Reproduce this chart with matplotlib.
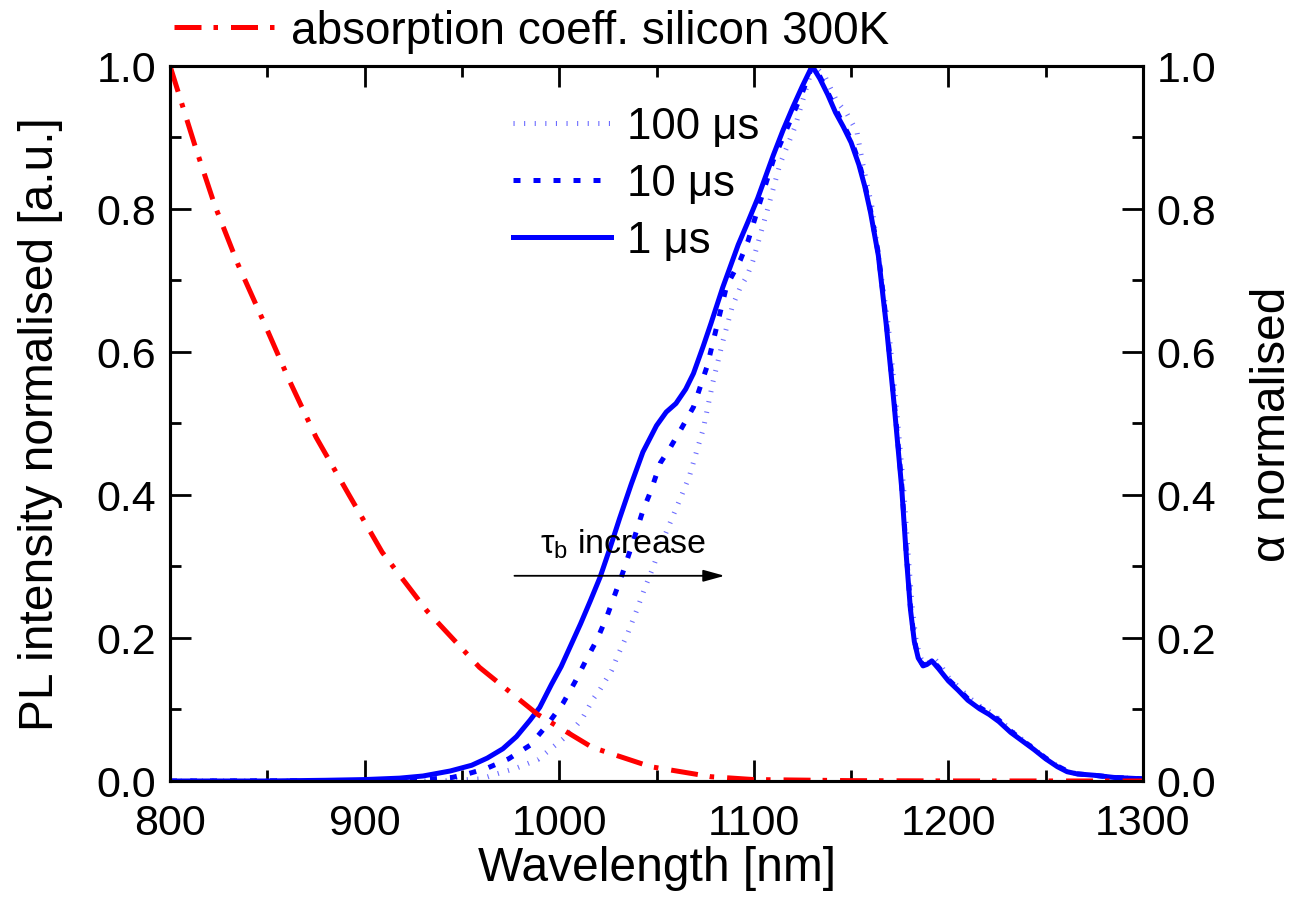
import numpy as np
import matplotlib.pyplot as plt
from matplotlib.ticker import MultipleLocator

plt.rcParams['font.family'] = ['Liberation Sans', 'DejaVu Sans']
plt.rcParams['mathtext.fontset'] = 'custom'
plt.rcParams['mathtext.rm'] = 'Liberation Sans'
plt.rcParams['mathtext.it'] = 'Liberation Sans'

# absorption coefficient of silicon (normalised)
wl_abs = [800, 813, 823, 835, 848, 861, 875, 892, 909, 932, 959, 989, 1017,
          1047, 1078, 1100, 1150, 1200, 1300]
alpha_abs = [1.0, 0.887, 0.805, 0.722, 0.643, 0.562, 0.481, 0.40, 0.320, 0.238,
             0.159, 0.093, 0.047, 0.020, 0.006, 0.002, 0.0005, 0.0001, 0.0]

# PL spectra, bulk lifetime 1 us
wl_1us = [800, 850, 880, 900, 918, 930, 944, 955, 963, 971, 978, 985, 990, 996,
          1001, 1006, 1011, 1016, 1021, 1026, 1031, 1037, 1043, 1050, 1055, 1060,
          1065, 1069, 1074, 1078, 1084, 1092, 1097, 1102, 1106, 1110, 1115, 1120,
          1125, 1130, 1134, 1138, 1142, 1146, 1150, 1154, 1157, 1160, 1164, 1168,
          1172, 1176, 1178.5, 1180.5, 1182.5, 1184.5, 1187, 1189, 1191.5, 1195,
          1200, 1205, 1210, 1216, 1221, 1226, 1232, 1238, 1244, 1250, 1256, 1261,
          1266, 1275, 1285, 1300]
pl_1us = [0.0, 0.0, 0.001, 0.002, 0.004, 0.007, 0.014, 0.022, 0.032, 0.045, 0.062,
          0.085, 0.103, 0.135, 0.160, 0.190, 0.220, 0.252, 0.285, 0.325, 0.367,
          0.415, 0.460, 0.497, 0.516, 0.528, 0.548, 0.570, 0.608, 0.640, 0.690,
          0.750, 0.782, 0.815, 0.845, 0.875, 0.910, 0.942, 0.972, 1.0, 0.982,
          0.960, 0.935, 0.915, 0.893, 0.862, 0.832, 0.795, 0.735, 0.64, 0.53,
          0.41, 0.31, 0.24, 0.195, 0.172, 0.161, 0.163, 0.168, 0.157, 0.140,
          0.127, 0.113, 0.101, 0.093, 0.083, 0.068, 0.056, 0.044, 0.031, 0.020,
          0.013, 0.010, 0.008, 0.005, 0.003]

# bulk lifetime 10 us
wl_10us = [800, 900, 930, 945, 953, 963, 974, 985, 994, 1002, 1008, 1014, 1019.5,
           1024.5, 1032.5, 1038, 1043, 1047, 1052, 1057, 1063, 1069, 1076, 1081,
           1086, 1093, 1097, 1103, 1110, 1119, 1125, 1130, 1134, 1138, 1142, 1146,
           1150, 1154, 1157, 1160, 1164, 1168, 1172, 1176, 1178.5, 1180.5, 1182.5,
           1184.5, 1187, 1189, 1191.5, 1195, 1200, 1205, 1210, 1216, 1221, 1226,
           1232, 1238, 1244, 1250, 1256, 1261, 1266, 1275, 1285, 1300]
pl_10us = [0.0, 0.0005, 0.002, 0.005, 0.010, 0.018, 0.031, 0.050, 0.079, 0.109,
           0.138, 0.170, 0.198, 0.230, 0.290, 0.335, 0.378, 0.405, 0.445, 0.466,
           0.494, 0.523, 0.580, 0.636, 0.692, 0.728, 0.755, 0.808, 0.868, 0.925,
           0.963, 1.0, 0.985, 0.963, 0.940, 0.918, 0.897, 0.866, 0.835, 0.798,
           0.738, 0.645, 0.535, 0.415, 0.315, 0.243, 0.197, 0.173, 0.162, 0.164,
           0.169, 0.159, 0.142, 0.129, 0.115, 0.103, 0.095, 0.085, 0.070, 0.057,
           0.045, 0.032, 0.021, 0.014, 0.010, 0.008, 0.005, 0.003]

# bulk lifetime 100 us
wl_100us = [800, 940, 960, 968, 978, 989, 1002, 1008, 1012, 1017.5, 1021, 1027,
            1030, 1035, 1040, 1044, 1048, 1053, 1058.5, 1063, 1067, 1070.5, 1074,
            1079, 1084, 1089, 1093, 1096.5, 1099.6, 1106.8, 1113.5, 1121.2, 1126,
            1130.4, 1133, 1136.6, 1142.6, 1147.9, 1153, 1156, 1160.7, 1164.8, 1169,
            1173, 1177, 1179.5, 1181.5, 1183.5, 1185.5, 1188, 1190, 1192.5, 1196,
            1200, 1205, 1210, 1216, 1221, 1226, 1232, 1238, 1244, 1250, 1256, 1261,
            1266, 1275, 1285, 1300]
pl_100us = [0.0, 0.0, 0.003, 0.010, 0.018, 0.030, 0.059, 0.075, 0.088, 0.115,
            0.128, 0.155, 0.175, 0.205, 0.240, 0.270, 0.297, 0.335, 0.371, 0.400,
            0.427, 0.460, 0.492, 0.558, 0.614, 0.664, 0.690, 0.706, 0.728, 0.797,
            0.863, 0.915, 0.960, 1.0, 0.995, 0.985, 0.951, 0.933, 0.908, 0.863,
            0.803, 0.719, 0.64, 0.53, 0.41, 0.31, 0.24, 0.195, 0.173, 0.163,
            0.166, 0.172, 0.162, 0.145, 0.132, 0.118, 0.105, 0.097, 0.087, 0.071,
            0.058, 0.045, 0.032, 0.021, 0.014, 0.010, 0.008, 0.005, 0.003]

fig = plt.figure(figsize=(12.95, 9.2), dpi=100)
ax = fig.add_axes([0.1313, 0.15, 0.7513, 0.7772])
ax2 = ax.twinx()

lw = 3.6
l100, = ax.plot(wl_100us, pl_100us, color='#6b6bff', lw=lw, dashes=(0.22, 1.9),
                dash_capstyle='butt', label='100 μs')
l10, = ax.plot(wl_10us, pl_10us, color='#0000ff', lw=lw, dashes=(1.4, 2.6),
               dash_capstyle='butt', label='10 μs')
l1, = ax.plot(wl_1us, pl_1us, color='#0000ff', lw=lw, label='1 μs')
la, = ax2.plot(wl_abs, alpha_abs, color='#ff0000', lw=lw,
               dashes=(5.4, 2.4, 0.9, 2.6), dash_capstyle='butt',
               label='absorption coeff. silicon 300K')

for a in (ax, ax2):
    a.set_xlim(800, 1300)
    a.set_ylim(0, 1)
    a.yaxis.set_major_locator(MultipleLocator(0.2))
    a.yaxis.set_minor_locator(MultipleLocator(0.1))
    a.yaxis.set_major_formatter(plt.FormatStrFormatter('%.1f'))
ax.xaxis.set_major_locator(MultipleLocator(100))
ax.xaxis.set_minor_locator(MultipleLocator(50))

ax.tick_params(which='both', direction='in', top=True, right=False, width=2,
               labelsize=31)
ax.tick_params(axis='y', pad=10)
ax.tick_params(axis='x', pad=16)
ax.tick_params(which='major', length=15)
ax.tick_params(which='minor', length=8)
ax2.tick_params(which='both', direction='in', width=2, labelsize=31, pad=10)
ax2.tick_params(which='major', length=15)
ax2.tick_params(which='minor', length=8)
for a in (ax, ax2):
    for s in a.spines.values():
        s.set_linewidth(2.2)

ax.set_xlabel('Wavelength [nm]', fontsize=34.5, labelpad=1)
ax.set_ylabel('PL intensity normalised [a.u.]', fontsize=34.5, labelpad=24)
ax2.set_ylabel('α normalised', fontsize=34.5, labelpad=24)

leg_top = ax2.legend(handles=[la], loc='upper left', bbox_to_anchor=(0.004, 1.08),
                     frameon=False, fontsize=33, handlelength=2.2,
                     handletextpad=0.35, borderpad=0, borderaxespad=0)
ax2.legend(handles=[l100, l10, l1], loc='upper left', bbox_to_anchor=(0.3525, 0.944),
           frameon=False, fontsize=31.5, handlelength=2.25, handletextpad=0.35,
           labelspacing=0.37, borderpad=0, borderaxespad=0)
ax2.add_artist(leg_top)

ax.annotate('', xy=(1085, 0.287), xytext=(977, 0.287),
            arrowprops=dict(arrowstyle='-|>,head_length=0.65,head_width=0.18',
                            color='black', lw=1.3, mutation_scale=20,
                            shrinkA=0, shrinkB=0))
ax.text(990, 0.32, r'$\mathregular{\tau_b}$ increase', fontsize=24.5,
        va='baseline', ha='left')

fig.savefig('out.png', dpi=100)
